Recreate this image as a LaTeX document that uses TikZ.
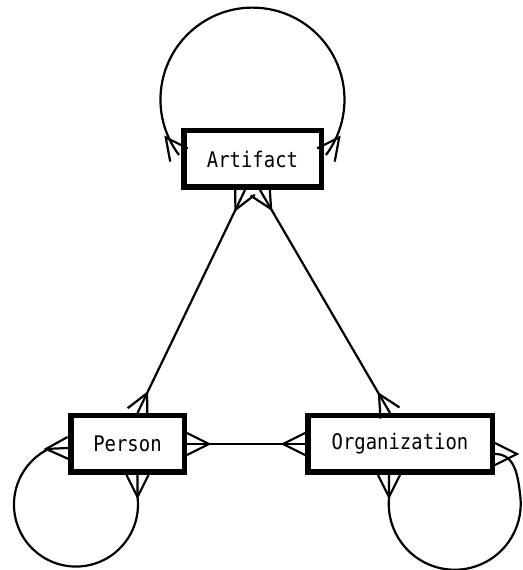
\documentclass[tikz,border=0pt]{standalone}
\usepackage{fontspec}
\setmonofont{DejaVu Sans Mono}[FakeStretch=0.88]
\usepackage{tikz}
\usetikzlibrary{arrows.meta,positioning,calc}

% crow's foot: prongs open at the end of the line, line runs on to the end
\pgfdeclarearrow{
  name=crowfoot,
  parameters={\the\pgfarrowlength,\the\pgfarrowwidth},
  setup code={
    \pgfarrowssettipend{0pt}
    \pgfarrowssetlineend{0pt}
    \pgfarrowssetbackend{-\pgfarrowlength}
    \pgfarrowssavethe\pgfarrowlength
    \pgfarrowssavethe\pgfarrowwidth
  },
  drawing code={
    \pgfsetdash{}{0pt}
    \pgfpathmoveto{\pgfqpoint{0pt}{0.5\pgfarrowwidth}}
    \pgfpathlineto{\pgfqpoint{-\pgfarrowlength}{0pt}}
    \pgfpathlineto{\pgfqpoint{0pt}{-0.5\pgfarrowwidth}}
    \pgfusepathqstroke
  },
  defaults={length=22pt, width=22pt}
}

\tikzset{
  crow/.tip={crowfoot[length=22pt, width=22pt]},
  entity/.style={draw, rectangle, line width=5.5pt, minimum height=56.5pt,
    inner sep=0pt, font=\fontsize{21.5}{24}\ttfamily},
  rel/.style={line width=2.2pt, crow-crow}
}

\begin{document}
\begin{tikzpicture}[x=1pt, y=1pt]
  \useasboundingbox (0,0) rectangle (522,570);

  % entities
  \node[entity, minimum width=137.5pt] (art) at (252.5, 411) {Artifact};
  \node[entity, minimum width=113.5pt] (per) at (127.5, 126) {Person};
  \node[entity, minimum width=184.5pt] (org) at (400, 126) {Organization};

  % relations between entities
  \draw[rel] ([xshift=-7.5pt]art.south) -- ([xshift=10pt]per.north);
  \draw[rel] ([xshift=7.5pt]art.south) -- ([xshift=-10pt]org.north);
  \draw[rel] (per.east) -- (org.west);

  % self relations
  \draw[rel] ([xshift=-2pt, yshift=4pt]art.west)
    arc[start angle=217, end angle=-37, radius=92];
  \draw[rel] ([xshift=10pt]per.south) -- ++(0,-22)
    arc[start angle=7, end angle=-244, radius=62] -- ([yshift=-4pt]per.west);
  \draw[rel] ([xshift=-11pt]org.south) -- ++(0,-23)
    arc[start angle=175, end angle=365, radius=66]
    .. controls (518,95) and (515,116) .. ([yshift=-10pt]org.east);
\end{tikzpicture}
\end{document}
